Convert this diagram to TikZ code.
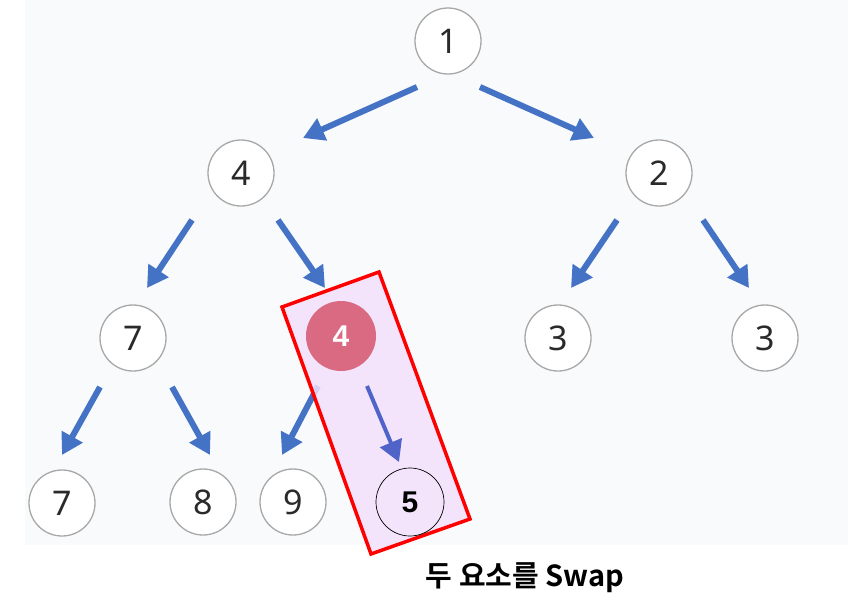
\documentclass[tikz,border=0pt]{standalone}
\usepackage{fontspec}
\setmainfont{Noto Sans}
\newfontfamily\krfont{Noto Sans CJK KR}[BoldFont={Noto Sans CJK KR Bold}]
\newfontfamily\boldnum{Liberation Sans}
\usetikzlibrary{arrows.meta}
\definecolor{arrowblue}{HTML}{4472C4}
\definecolor{swapblue}{HTML}{4F63C9}
\definecolor{pinkfill}{HTML}{F3E1FB}
\definecolor{hilite}{HTML}{D96A82}
\definecolor{bglight}{HTML}{F8FAFB}
\definecolor{circgray}{HTML}{A8A8A8}
\definecolor{numgray}{HTML}{2A2A2A}
\tikzset{
  heapnode/.style={circle, draw=circgray, line width=1.3pt, fill=white, minimum size=66pt, inner sep=0pt,
    font=\fontsize{34}{34}\selectfont, text=numgray},
  treearrow/.style={draw=arrowblue, line width=6pt, -{Triangle[width=23pt,length=21pt]}},
  swaparrow/.style={draw=swapblue, line width=4pt, -{Triangle[width=23pt,length=21pt]}},
}
\begin{document}
\begin{tikzpicture}[x=1pt,y=-1pt]
\useasboundingbox (0,0) rectangle (862,608);
\fill[white] (0,0) rectangle (862,608);
\fill[bglight] (25,0) rectangle (848,545);

% nodes
\node[heapnode] (n1) at (448,41) {1};
\node[heapnode] (n4) at (241,173) {4};
\node[heapnode] (n2) at (659,173) {2};
\node[heapnode] (n7a) at (133,338) {7};
\node[heapnode] (n3a) at (558,338) {3};
\node[heapnode] (n3b) at (765,338) {3};
\node[heapnode] (n7b) at (62,503) {7};
\node[heapnode] (n8) at (203,502) {8};
\node[heapnode] (n9) at (293,502) {9};

% arrow endpoints
\coordinate (a1s) at (417,87);  \coordinate (a1e) at (303,138);
\coordinate (a2s) at (480,87);  \coordinate (a2e) at (594,138);
\coordinate (a3s) at (192,220); \coordinate (a3e) at (147,288);
\coordinate (a4s) at (278,220); \coordinate (a4e) at (325,288);
\coordinate (a5s) at (617,220); \coordinate (a5e) at (571,288);
\coordinate (a6s) at (703,220); \coordinate (a6e) at (749,288);
\coordinate (a7s) at (100,387); \coordinate (a7e) at (62,455);
\coordinate (a8s) at (172,387); \coordinate (a8e) at (210,455);
\coordinate (a9s) at (318,386); \coordinate (a9e) at (282,455);

\draw[treearrow] (a1s) -- (a1e);
\draw[treearrow] (a2s) -- (a2e);
\draw[treearrow] (a3s) -- (a3e);
\draw[treearrow] (a4s) -- (a4e);
\draw[treearrow] (a5s) -- (a5e);
\draw[treearrow] (a6s) -- (a6e);
\draw[treearrow] (a7s) -- (a7e);
\draw[treearrow] (a8s) -- (a8e);
\draw[treearrow] (a9s) -- (a9e);

% highlight box
\draw[draw=red, line width=3.5pt, fill=pinkfill, fill opacity=0.85, line join=miter]
  (282,307) -- (379,272) -- (470,519) -- (371,554) -- cycle;

\node[circle, fill=hilite, minimum size=70pt, inner sep=0pt, text=white,
  font=\boldnum\bfseries\fontsize{30}{30}\selectfont] (h4) at (341,336) {4};
\node[circle, draw=black, line width=0.7pt, minimum size=68pt, inner sep=0pt, text=black,
  font=\boldnum\bfseries\fontsize{30}{30}\selectfont] (n5) at (410,502) {5};

\coordinate (ss) at (367,386); \coordinate (se) at (399,462);
\draw[swaparrow] (ss) -- (se);

\node[font=\krfont\bfseries\fontsize{29}{29}\selectfont, text=black] (cap) at (525,578) {두 요소를 Swap};
\end{tikzpicture}
\end{document}
